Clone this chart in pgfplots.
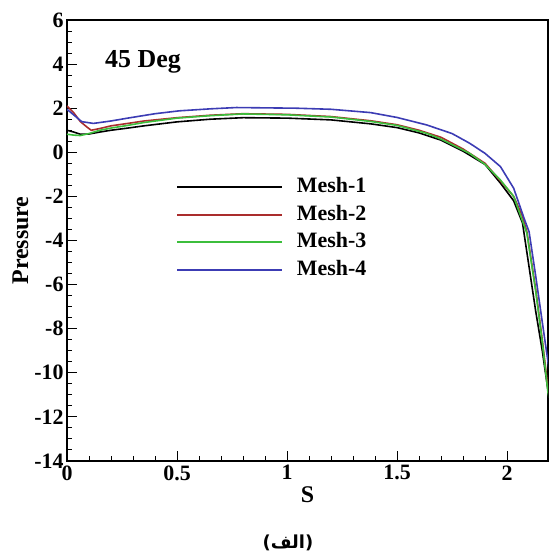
\documentclass[border=0pt]{standalone}
\usepackage{pgfplots}
\pgfplotsset{compat=1.18}
\usepackage{fontspec}
\setmainfont{Liberation Serif}
\newfontfamily\arabicfont[Script=Arabic]{DejaVu Sans}
\newfontfamily\dejavu{DejaVu Sans}
\TeXXeTstate=1
\definecolor{mred}{RGB}{170,45,45}
\definecolor{mgreen}{RGB}{60,190,60}
\definecolor{mblue}{RGB}{60,60,180}
\begin{document}
\begin{tikzpicture}
\path[use as bounding box] (-67bp,-94bp) rectangle (483bp,461bp);
\begin{axis}[
  at={(0,0)}, anchor=south west,
  scale only axis, width=481bp, height=441bp,
  xmin=0, xmax=2.186, ymin=-14, ymax=6,
  xtick={0,0.5,1,1.5,2}, ytick={-14,-12,...,6},
  minor x tick num=4, minor y tick num=3,
  tick align=inside,
  major tick length=10bp, minor tick length=5bp,
  xtick pos=bottom, ytick pos=left,
  axis line style={line width=1.3bp},
  every tick/.style={black, line width=1bp},
  /pgf/number format/assume math mode=true,
  ticklabel style={font=\bfseries\fontsize{22}{22}\selectfont},
  xticklabel style={yshift=-1bp},
  label style={font=\bfseries\fontsize{24}{24}\selectfont},
  xlabel={S}, ylabel={Pressure},
  xlabel style={yshift=1bp},
  ylabel style={yshift=-1bp},
  legend style={draw=none, fill=none, at={(rel axis cs:0.221,0.652)}, anchor=north west,
    font=\bfseries\fontsize{22}{22}\selectfont, row sep=4.5bp,
    nodes={inner xsep=13.5bp, inner ysep=2bp, text height=15bp, text depth=4bp}},
  legend cell align=left,
  legend image code/.code={\draw[#1, line width=2bp] (0bp,0bp) -- (105bp,0bp);},
  every axis plot/.append style={line width=1.6bp},
  clip=true,
]
\addplot[black] coordinates {
(0,1.0) (0.03,0.92) (0.06,0.82) (0.1,0.83) (0.15,0.92) (0.2,1.0) (0.27,1.09)
(0.35,1.2) (0.5,1.38) (0.65,1.5) (0.8,1.57) (1.0,1.55) (1.2,1.47) (1.38,1.29)
(1.5,1.12) (1.6,0.88) (1.7,0.55) (1.8,0.05) (1.9,-0.55) (1.97,-1.4) (2.03,-2.2)
(2.07,-3.2) (2.10,-5.2) (2.13,-7.2) (2.16,-9.0) (2.186,-10.8) (2.2,-11.6)};
\addlegendentry{Mesh-1}
\addplot[mred] coordinates {
(0,2.1) (0.03,1.8) (0.06,1.4) (0.09,1.15) (0.11,1.0) (0.15,1.08) (0.2,1.2)
(0.27,1.3) (0.35,1.42) (0.5,1.57) (0.65,1.68) (0.8,1.75) (1.0,1.72) (1.2,1.62)
(1.38,1.43) (1.5,1.25) (1.6,1.0) (1.7,0.68) (1.8,0.15) (1.9,-0.5) (1.97,-1.3)
(2.03,-2.0) (2.07,-2.9) (2.09,-3.6) (2.13,-6.2) (2.16,-8.5) (2.186,-10.7) (2.2,-11.5)};
\addlegendentry{Mesh-2}
\addplot[mgreen] coordinates {
(0,0.82) (0.03,0.78) (0.06,0.76) (0.1,0.85) (0.15,1.0) (0.2,1.1) (0.27,1.21)
(0.35,1.35) (0.5,1.55) (0.65,1.66) (0.8,1.74) (1.0,1.7) (1.2,1.6) (1.38,1.4)
(1.5,1.22) (1.635,0.86) (1.7,0.6) (1.83,-0.05) (1.9,-0.55) (1.97,-1.26)
(2.03,-2.0) (2.09,-3.67) (2.13,-6.3) (2.16,-8.6) (2.186,-10.9) (2.2,-11.6)};
\addlegendentry{Mesh-3}
\addplot[mblue] coordinates {
(0,1.95) (0.03,1.7) (0.067,1.39) (0.12,1.31) (0.2,1.42) (0.27,1.54) (0.4,1.75)
(0.51,1.88) (0.65,1.97) (0.77,2.03) (1.04,2.0) (1.2,1.95) (1.38,1.8) (1.5,1.58)
(1.635,1.24) (1.75,0.85) (1.83,0.41) (1.9,-0.05) (1.97,-0.65) (2.03,-1.63)
(2.08,-3.07) (2.10,-3.6) (2.13,-5.6) (2.16,-7.7) (2.186,-9.5) (2.2,-10.4)};
\addlegendentry{Mesh-4}
\node[font=\bfseries\fontsize{26}{26}\selectfont] at (rel axis cs:0.158,0.905) {45 Deg};
\end{axis}
\node[font=\bfseries\fontsize{18}{18}\selectfont] at (221bp,-82bp) {{\dejavu (}{\arabicfont\beginR الف\endR}{\dejavu )}};
\end{tikzpicture}
\end{document}
